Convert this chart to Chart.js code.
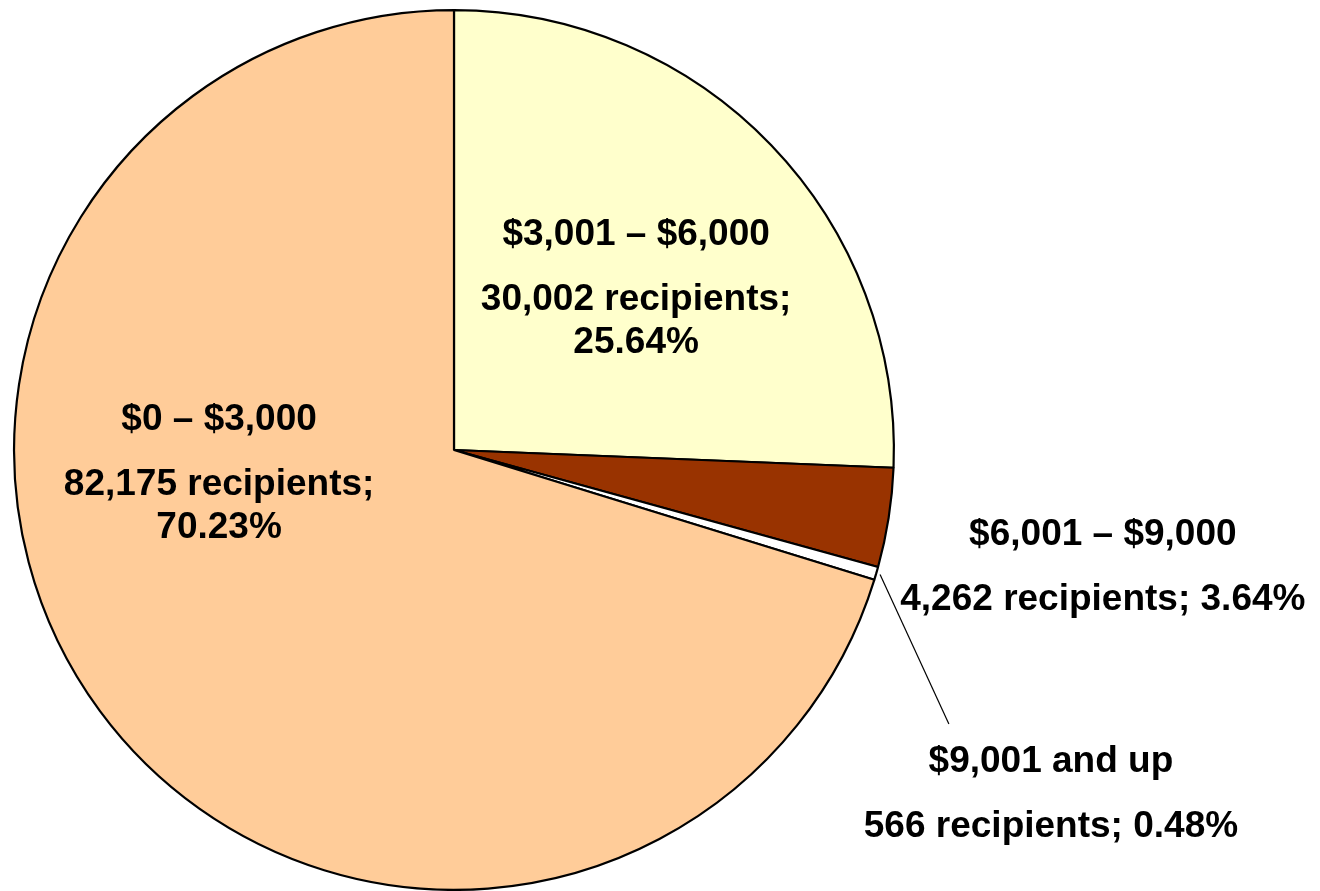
<!DOCTYPE html>
<html>
<head>
<meta charset="utf-8">
<title>Recipients by amount</title>
<script src="https://cdn.jsdelivr.net/npm/chart.js@4/dist/chart.umd.min.js"></script>
<style>
    html, body { margin: 0; padding: 0; background: #ffffff; }
    #wrap { position: relative; width: 1320px; height: 891px; }
</style>
</head>
<body>
<div id="wrap"><canvas id="pie"></canvas></div>
<script>
// Slices run clockwise from 12 o'clock
const ranges = ['$3,001 \u2013 $6,000', '$6,001 \u2013 $9,000', '$9,001 and up', '$0 \u2013 $3,000'];
const recipients = [30002, 4262, 566, 82175];
const shares = ['25.64%', '3.64%', '0.48%', '70.23%'];
const sliceColors = ['#FFFFCC', '#993300', '#FFFFFF', '#FFCC99'];

// Where each label block sits, in radii from the pie centre (first baseline)
const labelAnchors = [[0.414, -0.466], [1.475, 0.216], [1.357, 0.732], [-0.534, -0.045]];
// Second line: wrap count and share onto separate lines inside the pie
const wrapShare = [true, false, false, true];
// Slices whose label sits away from them and needs a leader line
const leaderEnds = { 2: [1.125, 0.623] };

const FONT = 'bold 37px "Liberation Sans", Arial, sans-serif';

/**
 * Draws the range / count / share text blocks and the leader line
 */
const sliceLabels = {
    id: 'sliceLabels',
    afterDatasetsDraw(chart) {
        const ctx = chart.ctx;
        const arcs = chart.getDatasetMeta(0).data;
        if (!arcs.length) return;
        const cx = arcs[0].x, cy = arcs[0].y, r = arcs[0].outerRadius;

        ctx.save();

        // leader lines
        ctx.strokeStyle = '#000000';
        ctx.lineWidth = 1.2;
        Object.keys(leaderEnds).forEach(i => {
            const arc = arcs[i];
            const mid = (arc.startAngle + arc.endAngle) / 2;
            const sx = cx + Math.cos(mid) * (r + 4);
            const sy = cy + Math.sin(mid) * (r + 4);
            const end = leaderEnds[i];
            ctx.beginPath();
            ctx.moveTo(sx, sy);
            ctx.lineTo(cx + end[0] * r, cy + end[1] * r);
            ctx.stroke();
        });

        // text blocks
        ctx.font = FONT;
        ctx.fillStyle = '#000000';
        ctx.textAlign = 'center';
        ctx.textBaseline = 'alphabetic';
        ranges.forEach((name, i) => {
            const x = cx + labelAnchors[i][0] * r;
            let y = cy + labelAnchors[i][1] * r;
            const count = recipients[i].toLocaleString('en-US') + ' recipients;';
            ctx.fillText(name, x, y);
            y += 65;
            if (wrapShare[i]) {
                ctx.fillText(count, x, y);
                ctx.fillText(shares[i], x, y + 43);
            } else {
                ctx.fillText(count + ' ' + shares[i], x, y);
            }
        });

        ctx.restore();
    }
};

new Chart(document.getElementById('pie'), {
    type: 'pie',
    data: {
        labels: ranges,
        datasets: [{
            data: recipients,
            backgroundColor: sliceColors,
            borderColor: '#000000',
            borderWidth: 2.2,
        }]
    },
    options: {
        responsive: true,
        maintainAspectRatio: false,
        animation: false,
        layout: { padding: { left: 13, right: 425, top: 9, bottom: 0 } },
        plugins: {
            legend: { display: false },
            tooltip: { enabled: false },
        }
    },
    plugins: [sliceLabels]
});
</script>
</body>
</html>
